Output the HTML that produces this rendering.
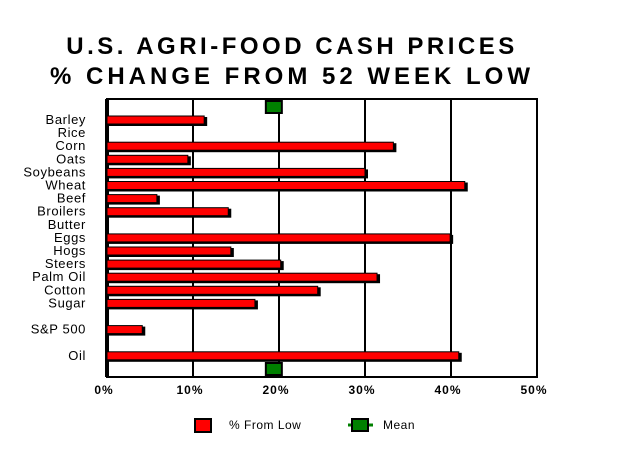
<!DOCTYPE html>
<html><head><meta charset="utf-8"><style>
body{margin:0;background:#fff;}
svg{display:block;font-family:"Liberation Sans",sans-serif;}
</style></head><body>
<svg id="c" width="620" height="453">
<text x="292" y="54" text-anchor="middle" font-size="24" font-weight="bold" letter-spacing="3.5">U.S. AGRI-FOOD CASH PRICES</text>
<text x="292" y="84" text-anchor="middle" font-size="24" font-weight="bold" letter-spacing="4">% CHANGE FROM 52 WEEK LOW</text>
<g id="plot"></g>
<g>
<rect x="195" y="419" width="16" height="13" fill="red" stroke="#000" stroke-width="2"/>
<text x="229" y="429" font-size="12" letter-spacing="0.5">% From Low</text>
<line x1="348" y1="425" x2="373" y2="425" stroke="green" stroke-width="3"/>
<rect x="352" y="419" width="16" height="12" fill="green" stroke="#000" stroke-width="2"/>
<text x="383" y="429" font-size="12" letter-spacing="0.5">Mean</text>
</g>
</svg>
<script>
const categories=["Barley","Rice","Corn","Oats","Soybeans","Wheat","Beef","Broilers","Butter","Eggs","Hogs","Steers","Palm Oil","Cotton","Sugar","","S&P 500","","Oil"];
const values=[11.3,0,33.3,9.4,30,41.6,5.8,14.1,0,39.9,14.4,20.2,31.4,24.5,17.2,null,4.1,null,40.9];
const meanValue=19.4;
const ticks=[0,10,20,30,40,50];
const NS="http://www.w3.org/2000/svg";
const g=document.getElementById('plot');
const X0=107,X1=537,Y0=99,Y1=377;
const x=v=>X0+(X1-X0)*v/50;
const y=i=>120+i*13.1;
function el(t,a){const e=document.createElementNS(NS,t);for(const k in a)e.setAttribute(k,a[k]);g.appendChild(e);return e;}
let r=el('rect',{x:X0,y:Y0,width:X1-X0,height:Y1-Y0,fill:'#fff',stroke:'#000','stroke-width':2});


ticks.forEach(t=>{
  const l=el('line',{x1:x(t),x2:x(t),y1:Y0,y2:Y1,stroke:'#000','stroke-width':t==0?4:2});
  
  
  const tx=el('text',{x:x(t)-3,y:394,'text-anchor':'middle','font-size':12,'font-weight':'bold','letter-spacing':1});
  tx.textContent=t+'%';
  
  
});
categories.forEach((c,i)=>{
  if(c){
    const tx=el('text',{x:86,y:y(i)+4,'text-anchor':'end','font-size':13,'letter-spacing':0.6});
    tx.textContent=c;
    
    
  }
  const v=values[i];
  if(v){
    const s=el('rect',{x:X0,y:y(i)-3,width:x(v)-X0+3,height:9,fill:'#000'});
    
    
    const b=el('rect',{x:X0,y:y(i)-4,width:x(v)-X0,height:8,fill:'red',stroke:'#000','stroke-width':1});
    
    
  }
});
[Y0+2,Y1-14].forEach((yy,k)=>{
  const m=el('rect',{x:x(meanValue)-8,y:yy,width:16,height:12,fill:'green',stroke:'#000','stroke-width':2});
  
  
});
</script>
</body></html>
